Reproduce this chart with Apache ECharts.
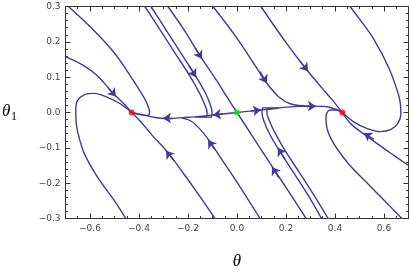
<!DOCTYPE html>
<html><head><meta charset="utf-8">
<script src="https://cdn.jsdelivr.net/npm/echarts@6/dist/echarts.min.js"></script>
<style>html,body{margin:0;padding:0;background:#fff}#c{width:410px;height:275px}</style>
</head><body><div id="c"></div>
<script>
// tick values
const xMajorTicks = [-0.6, -0.4, -0.2, 0, 0.2, 0.4, 0.6];
const xMinorTicks = [-0.65,-0.55,-0.5,-0.45,-0.35,-0.3,-0.25,-0.15,-0.1,-0.05,0.05,0.1,0.15,0.25,0.3,0.35,0.45,0.5,0.55,0.65];
const yTickInterval = 0.1;

// trajectories [theta, theta1]
const curveA  = [[-0.7,0.158],[-0.624,0.132],[-0.570,0.104],[-0.509,0.057],[-0.461,0.024],[-0.43,0]];
const curveB  = [[-0.688,0.3],[-0.597,0.241],[-0.502,0.170],[-0.449,0.118],[-0.380,0.043],[-0.363,0.018],[-0.357,0.001],[-0.363,-0.008],[-0.396,-0.006],[-0.43,0]];
const curveL1 = [[-0.090,-0.3],[-0.151,-0.238],[-0.219,-0.172],[-0.280,-0.115],[-0.347,-0.064],[-0.392,-0.027],[-0.43,0]];
const loopL   = [[-0.43,0],[-0.475,0.024],[-0.529,0.043],[-0.584,0.054],[-0.624,0.050],[-0.652,0.033],[-0.658,0.007],[-0.657,-0.021],[-0.652,-0.050],[-0.624,-0.115],[-0.570,-0.182],[-0.502,-0.248],[-0.454,-0.3]];
const curveD  = [[0,0],[-0.082,-0.006],[-0.151,-0.011],[-0.212,-0.014],[-0.286,-0.017],[-0.335,-0.014],[-0.376,-0.008],[-0.43,0]];
const curveH  = [[0,0],[0.053,0.004],[0.114,0.008],[0.216,0.016],[0.298,0.018],[0.359,0.017],[0.4,0.010],[0.43,0]];
const curveK  = [[-0.282,0.3],[-0.216,0.234],[-0.151,0.161],[-0.083,0.090],[-0.041,0.044],[0,0]];
const curveF  = [[0,0],[0.091,-0.097],[0.153,-0.163],[0.216,-0.229],[0.282,-0.3]];
const curveG  = [[-0.098,0.3],[-0.004,0.214],[0.086,0.120],[0.118,0.086],[0.171,0.044],[0.220,0.024],[0.294,0.018]];
const curveE  = [[0.094,-0.3],[0,-0.197],[-0.061,-0.134],[-0.110,-0.083],[-0.151,-0.047],[-0.188,-0.024],[-0.224,-0.016]];
const curveI  = [[0.098,0.3],[0.155,0.242],[0.216,0.183],[0.282,0.123],[0.347,0.069],[0.392,0.033],[0.43,0]];
const loopR   = [[0.43,0],[0.478,-0.027],[0.527,-0.044],[0.584,-0.054],[0.629,-0.048],[0.657,-0.030],[0.669,-0.004],[0.667,0.024],[0.659,0.051],[0.620,0.126],[0.555,0.211],[0.494,0.270],[0.461,0.3]];
const curveA2 = [[0.7,-0.150],[0.619,-0.111],[0.524,-0.064],[0.469,-0.035],[0.445,-0.016],[0.43,0]];
const curveJ  = [[0.673,-0.3],[0.624,-0.265],[0.543,-0.208],[0.449,-0.140],[0.380,-0.069],[0.363,-0.016],[0.367,-0.001],[0.380,0.007],[0.404,0.007],[0.43,0]];
const curveP1 = [[-0.376,0.3],[-0.314,0.234],[-0.253,0.168],[-0.192,0.103],[-0.151,0.052],[-0.131,0.021],[-0.122,0],[-0.124,-0.011],[-0.143,-0.013],[-0.171,-0.013]];
const curveP2 = [[-0.351,0.3],[-0.290,0.234],[-0.229,0.168],[-0.171,0.106],[-0.131,0.058],[-0.110,0.024],[-0.102,0.001],[-0.104,-0.013],[-0.127,-0.013],[-0.159,-0.011]];
const curveQ1 = [[0.372,-0.3],[0.314,-0.234],[0.253,-0.168],[0.192,-0.103],[0.151,-0.052],[0.131,-0.021],[0.122,0],[0.124,0.011],[0.143,0.013],[0.171,0.013]];
const curveQ2 = [[0.345,-0.3],[0.290,-0.234],[0.229,-0.168],[0.171,-0.106],[0.131,-0.058],[0.110,-0.024],[0.102,-0.001],[0.104,0.013],[0.127,0.013],[0.159,0.011]];

// arrowheads: [from, to] along the trajectory
const arrows = [
  [[-0.527,0.071],[-0.494,0.045]],
  [[-0.257,-0.137],[-0.290,-0.108]],
  [[-0.261,-0.016],[-0.302,-0.016]],
  [[-0.057,-0.004],[-0.098,-0.007]],
  [[0.057,0.004],[0.098,0.007]],
  [[0.282,0.018],[0.322,0.018]],
  [[-0.171,0.183],[-0.143,0.152]],
  [[0.171,-0.185],[0.143,-0.154]],
  [[0.094,0.116],[0.122,0.083]],
  [[-0.090,-0.106],[-0.118,-0.078]],
  [[0.253,0.149],[0.290,0.117]],
  [[0.559,-0.076],[0.518,-0.058]],
  [[-0.196,0.132],[-0.167,0.100]],
  [[0.196,-0.132],[0.167,-0.100]]
];

const saddlePoints = [[-0.43,0],[0.43,0]];
const centerPoint = [[0,0]];

const curves = [curveA,curveB,curveL1,loopL,curveD,curveH,curveK,curveF,curveG,curveE,curveI,loopR,curveA2,curveJ,curveP1,curveP2,curveQ1,curveQ2];
const LINE = '#3d3d99';

function fmt(v){ const s = Math.abs(v).toFixed(1); return v < -1e-9 ? '\u2212' + s : s; }
const labelStyle = {fontSize:9, color:'#444', fontFamily:'DejaVu Sans'};
const axLine = {show:true, onZero:false, lineStyle:{color:'#333', width:1}};
const noLine = {show:false, onZero:false};

const chart = echarts.init(document.getElementById('c'), null, {renderer:'canvas'});
const series = curves.map(d => ({
  type:'line', data:d, showSymbol:false, smooth:0.35, clip:true, silent:true,
  lineStyle:{color:LINE, width:1.4}, z:2
}));
series.push({
  type:'lines', coordinateSystem:'cartesian2d', xAxisIndex:0, yAxisIndex:0,
  symbol:['none','arrow'], symbolSize:8, silent:true, z:3,
  lineStyle:{color:LINE, width:1.4, opacity:1},
  data: arrows.map(a => ({coords:a}))
});
series.push({type:'scatter', data:saddlePoints, symbolSize:6, itemStyle:{color:'#ff0000'}, z:5, silent:true});
series.push({type:'scatter', data:centerPoint, symbolSize:6, itemStyle:{color:'#00ee00'}, z:5, silent:true});

chart.setOption({
  animation:false,
  backgroundColor:'#fff',
  grid:{left:65.5, right:1.5, top:6.5, bottom:56.5, containLabel:false},
  xAxis:[
    {type:'value', min:-0.7, max:0.7, position:'bottom', axisLine:axLine, splitLine:{show:false},
     axisTick:{show:true, inside:true, length:5, customValues:xMajorTicks, lineStyle:{color:'#333'}},
     axisLabel:{show:true, customValues:xMajorTicks, formatter:fmt, margin:6, ...labelStyle}},
    {type:'value', min:-0.7, max:0.7, position:'bottom', axisLine:noLine, splitLine:{show:false},
     axisTick:{show:true, inside:true, length:2.5, customValues:xMinorTicks, lineStyle:{color:'#333'}},
     axisLabel:{show:false}},
    {type:'value', min:-0.7, max:0.7, position:'top', axisLine:axLine, splitLine:{show:false},
     axisTick:{show:true, inside:true, length:5, customValues:xMajorTicks, lineStyle:{color:'#333'}},
     axisLabel:{show:false}},
    {type:'value', min:-0.7, max:0.7, position:'top', axisLine:noLine, splitLine:{show:false},
     axisTick:{show:true, inside:true, length:2.5, customValues:xMinorTicks, lineStyle:{color:'#333'}},
     axisLabel:{show:false}}
  ],
  yAxis:[
    {type:'value', min:-0.3, max:0.3, interval:yTickInterval, position:'left', axisLine:axLine, splitLine:{show:false},
     axisTick:{show:true, inside:true, length:5, lineStyle:{color:'#333'}},
     minorTick:{show:true, splitNumber:5, length:2.5, lineStyle:{color:'#333'}},
     axisLabel:{show:true, formatter:fmt, margin:5, ...labelStyle}},
    {type:'value', min:-0.3, max:0.3, interval:yTickInterval, position:'right', axisLine:axLine, splitLine:{show:false},
     axisTick:{show:true, inside:true, length:5, lineStyle:{color:'#333'}},
     minorTick:{show:true, splitNumber:5, length:2.5, lineStyle:{color:'#333'}},
     axisLabel:{show:false}}
  ],
  graphic:[
    {type:'text', x:237, y:262, style:{text:'θ', font:'italic 17px "Liberation Serif"', fill:'#000', textAlign:'center', textVerticalAlign:'middle', align:'center', verticalAlign:'middle'}},
    {type:'text', x:2, y:112, style:{text:'θ', font:'italic 17px "Liberation Serif"', fill:'#000', textAlign:'left', textVerticalAlign:'middle', align:'left', verticalAlign:'middle'}},
    {type:'text', x:11, y:117, style:{text:'1', font:'12px "Liberation Serif"', fill:'#000', textAlign:'left', textVerticalAlign:'middle', align:'left', verticalAlign:'middle'}}
  ],
  series:series
});
</script></body></html>
